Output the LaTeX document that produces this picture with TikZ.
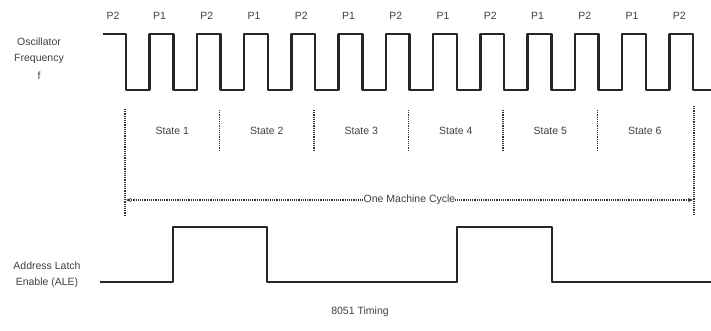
\documentclass[tikz,border=0pt]{standalone}
\usepackage{fontspec}
\setmainfont{Liberation Sans}
\usetikzlibrary{arrows.meta}
\begin{document}
\begin{tikzpicture}[x=1pt,y=-1pt,
  wave/.style={line width=2.5pt,line join=round,black!85},
  divider/.style={densely dotted,line width=1.2pt,black!80},
  lbl/.style={font=\fontsize{10.5}{12}\selectfont,text=black!75,inner sep=0pt},
  plbl/.style={font=\fontsize{10.5}{12}\selectfont,text=black!75,inner sep=0pt},
  cyc/.style={densely dotted,line width=1.2pt,black!80,{Stealth[length=5pt,width=4pt]}-{Stealth[length=5pt,width=4pt]}}]
\useasboundingbox (0,0) rectangle (711,331);
% oscillator waveform
\draw[wave] (103,34) foreach \k in {0,...,11} {
  -- ({126+47.25*\k},34) -- ({126+47.25*\k},90) -- ({149.6+47.25*\k},90) -- ({149.6+47.25*\k},34) }
  -- (693,34) -- (693,90) -- (711,90);
% P labels
\node[plbl] (p0) at (113,16) {P2};
\foreach \k/\t in {0/P1,1/P2,2/P1,3/P2,4/P1,5/P2,6/P1,7/P2,8/P1,9/P2,10/P1,11/P2}
  \node[plbl] (p\k x) at ({159.5+47.25*\k},16) {\t};
% left labels
\node[lbl] (osc) at (39,42) {Oscillator};
\node[lbl] (freq) at (39,59) {Frequency};
\node[lbl] (f) at (39,76) {f};
% state dividers
\coordinate (dL1) at (125,109); \coordinate (dL2) at (125,215);
\coordinate (dR1) at (694,106); \coordinate (dR2) at (694,215);
\draw[divider] (dL1) -- (dL2);
\draw[divider] (dR1) -- (dR2);
\foreach \k in {1,...,5} {
  \coordinate (d\k a) at ({125+94.5*\k},110);
  \coordinate (d\k b) at ({125+94.5*\k},151);
  \draw[divider] (d\k a) -- (d\k b);
}
\foreach \k in {1,...,6}
  \node[lbl] (s\k) at ({125+94.5*\k-47.25},131) {State \k};
% machine cycle arrow
\coordinate (aL) at (126,200);
\coordinate (aR) at (693,200);
\draw[cyc] (aL) -- (aR) node[midway,fill=white,inner xsep=2pt,inner ysep=1pt,lbl] (mc) {One Machine Cycle};
% ALE waveform
\draw[wave] (100,282) -- (173,282) -- (173,227) -- (267,227) -- (267,282)
  -- (457,282) -- (457,227) -- (552,227) -- (552,282) -- (711,282);
\node[lbl] (ale1) at (47,266) {Address Latch};
\node[lbl] (ale2) at (47,283) {Enable (ALE)};
% caption
\node[lbl] (cap) at (360,312) {8051 Timing};
\end{tikzpicture}
\end{document}
